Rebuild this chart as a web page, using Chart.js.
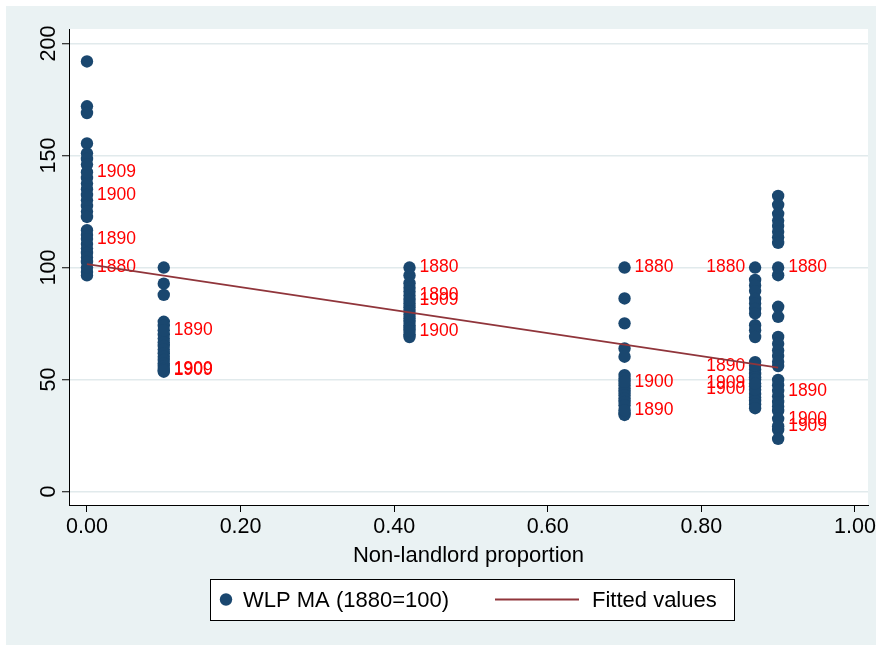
<!DOCTYPE html>
<html>
<head>
<meta charset="utf-8">
<script src="https://cdn.jsdelivr.net/npm/chart.js@4.4.0/dist/chart.umd.min.js"></script>
<style>
html, body { margin: 0; padding: 0; background: #ffffff; }
#wrap { width: 881px; height: 648px; }
</style>
</head>
<body>
<div id="wrap"><canvas id="c" width="881" height="648"></canvas></div>
<script>
// Non-landlord proportion of each district
const shares = [0.00, 0.10, 0.42, 0.70, 0.87, 0.90];

// WLP moving-average index (1880 = 100): the unlabelled years of each district
const wlp000 = [192, 172, 169, 155.4, 151, 148.5, 146, 140, 137.5, 135, 130, 127.5, 125, 122.6,
                116.7, 114.5, 110.5, 108.5, 106.5, 104.5, 102.5, 98, 96.5];
const wlp010 = [100, 92.8, 87.8, 75.8, 74, 70, 68.3, 66.6, 65, 63.4, 61.8, 60.2, 58.7, 57.2, 56, 53.5];
const wlp042 = [96.5, 93, 91, 89.3, 84, 82.3, 80.6, 79, 77.4, 75.8, 74.2, 73, 70.2, 69];
const wlp070 = [86.2, 75.1, 63.9, 60.2, 52, 50.5, 47.5, 46, 44.5, 43, 41.5, 40, 38.5, 35.2, 34.2];
const wlp087 = [94.5, 92, 89.5, 86, 84, 81.5, 79.5, 74.3, 72, 69, 57.8, 54.5, 52.5, 51, 50,
                47, 43.5, 42, 40.5, 39, 37.2];
const wlp090 = [132, 128, 124, 121, 118.5, 116, 113.5, 111, 96.6, 82.5, 78, 69, 66, 63, 60.5,
                58, 56, 49.8, 47.5, 42.5, 40, 38, 36, 27.5, 23.5];

// Labelled years and their index values (null where no year label is shown)
const labelYears = ['1880', '1890', '1900', '1909'];
const lab000 = [100, 112.7, 132.4, 142.6];
const lab010 = [null, 72, 54.7, 54.0];
const lab042 = [100, 87.5, 71.7, 85.6];
const lab070 = [100, 36.3, 49, null];
const lab087 = [100, 56.2, 45.5, 48.2];
const lab090 = [100, 45, 32.5, 29.2];
const labelSide = ['right', 'right', 'right', 'right', 'left', 'right'];

// Linear fit of the index on the non-landlord proportion
const fitX = [0.00, 0.90];
const fitY = [101.5, 55.3];

// Axis ticks
const xTickValues = [0, 0.2, 0.4, 0.6, 0.8, 1.0];
const xTickLabels = ['0.00', '0.20', '0.40', '0.60', '0.80', '1.00'];
const yTickValues = [0, 50, 100, 150, 200];
const yTickLabels = ['0', '50', '100', '150', '200'];

const xTitle = 'Non-landlord proportion';
const seriesName = 'WLP MA (1880=100)';
const fitName = 'Fitted values';

// ---------------------------------------------------------------
const FONT = '"Liberation Sans", Arial, Helvetica, sans-serif';
const NAVY = '#1a476f';
const MAROON = '#90353b';
const wlpSeries = [wlp000, wlp010, wlp042, wlp070, wlp087, wlp090];
const labSeries = [lab000, lab010, lab042, lab070, lab087, lab090];

const points = [];
shares.forEach((s, i) => {
  wlpSeries[i].forEach(v => points.push({ x: s, y: v }));
  labSeries[i].forEach(v => { if (v !== null) points.push({ x: s, y: v }); });
});

// Graph region and plot region backgrounds
const backdrop = {
  id: 'backdrop',
  beforeDraw(chart) {
    const { ctx, chartArea: a } = chart;
    ctx.save();
    ctx.fillStyle = '#ffffff';
    ctx.fillRect(0, 0, chart.width, chart.height);
    ctx.fillStyle = '#eaf2f3';
    ctx.fillRect(6, 6, 870, 639);
    ctx.fillStyle = '#ffffff';
    ctx.fillRect(a.left, a.top, a.right - a.left, a.bottom - a.top);
    ctx.restore();
  }
};

// Year labels beside the marked points
const yearLabels = {
  id: 'yearLabels',
  afterDatasetDraw(chart, args) {
    if (args.index !== 1) return;
    const { ctx } = chart;
    const xs = chart.scales.x, ys = chart.scales.y;
    ctx.save();
    ctx.font = '17.5px ' + FONT;
    ctx.fillStyle = '#ff0000';
    ctx.textBaseline = 'middle';
    shares.forEach((s, i) => {
      const px = xs.getPixelForValue(s);
      labSeries[i].forEach((v, k) => {
        if (v === null) return;
        const py = ys.getPixelForValue(v);
        if (labelSide[i] === 'left') {
          ctx.textAlign = 'right';
          ctx.fillText(labelYears[k], px - 10, py);
        } else {
          ctx.textAlign = 'left';
          ctx.fillText(labelYears[k], px + 10, py);
        }
      });
    });
    ctx.restore();
  }
};

// Rotated y tick labels and the legend box
const extras = {
  id: 'extras',
  afterDraw(chart) {
    const { ctx } = chart;
    const ys = chart.scales.y;
    ctx.save();
    ctx.font = '21.5px ' + FONT;
    ctx.fillStyle = '#000000';
    ctx.textAlign = 'center';
    ctx.textBaseline = 'alphabetic';
    yTickValues.forEach((v, i) => {
      const py = ys.getPixelForValue(v);
      ctx.save();
      ctx.translate(55, py);
      ctx.rotate(-Math.PI / 2);
      ctx.fillText(yTickLabels[i], 0, 0);
      ctx.restore();
    });

    // legend
    const ly = 599.5;
    ctx.font = '22px ' + FONT;
    ctx.fillStyle = '#ffffff';
    ctx.fillRect(210, 579, 525, 42);
    ctx.strokeStyle = '#000000';
    ctx.lineWidth = 1;
    ctx.strokeRect(210.5, 579.5, 524, 41);
    ctx.fillStyle = NAVY;
    ctx.beginPath();
    ctx.arc(226, ly, 6.2, 0, Math.PI * 2);
    ctx.fill();
    ctx.fillStyle = '#000000';
    ctx.textAlign = 'left';
    ctx.textBaseline = 'middle';
    ctx.fillText(chart.data.datasets[1].label, 243, ly + 1);
    ctx.strokeStyle = MAROON;
    ctx.lineWidth = 1.8;
    ctx.beginPath();
    ctx.moveTo(495, ly);
    ctx.lineTo(579, ly);
    ctx.stroke();
    ctx.fillText(chart.data.datasets[0].label, 592, ly + 1);
    ctx.restore();
  }
};

new Chart(document.getElementById('c'), {
  type: 'scatter',
  data: {
    datasets: [
      {
        label: fitName,
        data: fitX.map((x, i) => ({ x: x, y: fitY[i] })),
        showLine: true,
        borderColor: MAROON,
        borderWidth: 1.8,
        pointRadius: 0,
        fill: false,
        order: 0
      },
      {
        label: seriesName,
        data: points,
        backgroundColor: NAVY,
        borderWidth: 0,
        pointRadius: 6.2,
        pointHoverRadius: 6.2,
        order: 1
      }
    ]
  },
  options: {
    responsive: false,
    animation: false,
    devicePixelRatio: 1,
    layout: { padding: { left: 0, top: 29, right: 13, bottom: 73 } },
    plugins: { legend: { display: false }, tooltip: { enabled: false } },
    scales: {
      x: {
        type: 'linear',
        min: -0.0234,
        max: 1.017,
        afterBuildTicks: s => { s.ticks = xTickValues.map(v => ({ value: v })); },
        afterFit: s => { s.height = 70; },
        grid: { drawOnChartArea: false, drawTicks: true, tickLength: 7, tickColor: '#000000', tickWidth: 1 },
        border: { display: true, color: '#000000', width: 1 },
        ticks: {
          autoSkip: false, maxRotation: 0, minRotation: 0, padding: 2,
          color: '#000000', font: { family: FONT, size: 21.5 },
          callback: (v, i) => xTickLabels[i]
        },
        title: {
          display: true, text: xTitle, color: '#000000',
          font: { family: FONT, size: 22 }, padding: { top: 0, bottom: 6 }
        }
      },
      y: {
        type: 'linear',
        min: -6.0,
        max: 206.5,
        afterBuildTicks: s => { s.ticks = yTickValues.map(v => ({ value: v })); },
        afterFit: s => { s.width = 69; },
        grid: { drawOnChartArea: true, color: '#e1eaec', lineWidth: 1.5, drawTicks: true, tickLength: 7, tickColor: '#000000', tickWidth: 1 },
        border: { display: true, color: '#000000', width: 1 },
        ticks: { display: false }
      }
    }
  },
  plugins: [backdrop, yearLabels, extras]
});
</script>
</body>
</html>
